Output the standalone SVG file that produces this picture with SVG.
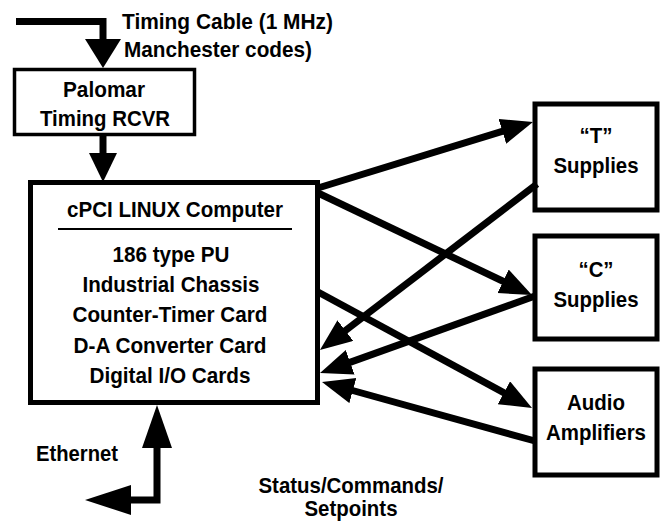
<svg xmlns="http://www.w3.org/2000/svg" width="662" height="522" viewBox="0 0 662 522">
<style>
text{font-family:"Liberation Sans",Arial,sans-serif;font-weight:bold;font-size:22.5px;fill:#000}
.c{text-anchor:middle}
.box{fill:#fff;stroke:#000;stroke-width:5}
.thin{fill:#fff;stroke:#000;stroke-width:3.5}
.ln{fill:none;stroke:#000;stroke-width:7}
.ah{fill:#000;stroke:none}
</style>
<defs>
<marker id="arr" markerUnits="userSpaceOnUse" markerWidth="34" markerHeight="28" refX="4" refY="13" orient="auto" viewBox="0 0 34 28">
<path d="M0,0 L32,13 L0,26 z" fill="#000"/>
</marker>
</defs>
<rect width="662" height="522" fill="#fff"/>
<g id="palomar">
<rect class="thin" x="14.5" y="69.5" width="180" height="65"/>
<text class="c" x="104" y="97" textLength="82" lengthAdjust="spacingAndGlyphs">Palomar</text>
<text class="c" x="105" y="126" textLength="130" lengthAdjust="spacingAndGlyphs">Timing RCVR</text>
</g>
<g id="computer">
<rect class="box" x="30.5" y="182.5" width="287" height="220"/>
<text class="c" x="175" y="217" textLength="216" lengthAdjust="spacingAndGlyphs">cPCI LINUX Computer</text>
<line x1="58" y1="229" x2="292" y2="229" stroke="#000" stroke-width="2"/>
<text class="c" x="171" y="262" textLength="117" lengthAdjust="spacingAndGlyphs">186 type PU</text>
<text class="c" x="171" y="292" textLength="177" lengthAdjust="spacingAndGlyphs">Industrial Chassis</text>
<text class="c" x="170" y="322" textLength="195" lengthAdjust="spacingAndGlyphs">Counter-Timer Card</text>
<text class="c" x="170" y="353" textLength="193" lengthAdjust="spacingAndGlyphs">D-A Converter Card</text>
<text class="c" x="170" y="383" textLength="161" lengthAdjust="spacingAndGlyphs">Digital I/O Cards</text>
</g>
<g id="t-supplies">
<rect class="box" x="535" y="104" width="122" height="106"/>
<text class="c" x="596" y="143" textLength="33" lengthAdjust="spacingAndGlyphs">“T”</text>
<text class="c" x="596" y="173" textLength="85" lengthAdjust="spacingAndGlyphs">Supplies</text>
</g>
<g id="c-supplies">
<rect class="box" x="535" y="236" width="122" height="103"/>
<text class="c" x="596" y="277" textLength="35" lengthAdjust="spacingAndGlyphs">“C”</text>
<text class="c" x="596" y="307" textLength="85" lengthAdjust="spacingAndGlyphs">Supplies</text>
</g>
<g id="audio">
<rect class="box" x="535" y="369" width="122" height="106"/>
<text class="c" x="596" y="410" textLength="58" lengthAdjust="spacingAndGlyphs">Audio</text>
<text class="c" x="596" y="440" textLength="100" lengthAdjust="spacingAndGlyphs">Amplifiers</text>
</g>
<g id="labels">
<text x="122" y="29" textLength="211" lengthAdjust="spacingAndGlyphs">Timing Cable (1 MHz)</text>
<text x="124" y="57" textLength="188" lengthAdjust="spacingAndGlyphs">Manchester codes)</text>
<text x="36" y="461" textLength="82" lengthAdjust="spacingAndGlyphs">Ethernet</text>
<text class="c" x="351" y="493" textLength="185" lengthAdjust="spacingAndGlyphs">Status/Commands/</text>
<text class="c" x="351" y="516" textLength="93" lengthAdjust="spacingAndGlyphs">Setpoints</text>
</g>
<g id="connectors">
<path class="ln" d="M16,21.5 H103 V41"/>
<polygon class="ah" points="85,39 121,39 103,68"/>
<path class="ln" d="M103,135 V155"/>
<polygon class="ah" points="89,153 117,153 103,182"/>
<path class="ln" d="M130,500 H157 V446"/>
<polygon class="ah" points="157,405 142,448 172,448"/>
<polygon class="ah" points="85,500 131,485 131,515"/>
<line class="ln" x1="318" y1="188" x2="506.2" y2="130.2" marker-end="url(#arr)"/>
<line class="ln" x1="318" y1="193" x2="506.7" y2="283" marker-end="url(#arr)"/>
<line class="ln" x1="537" y1="184" x2="342.2" y2="333" marker-end="url(#arr)"/>
<line class="ln" x1="535" y1="296" x2="346.4" y2="363.6" marker-end="url(#arr)"/>
<line class="ln" x1="318" y1="292" x2="507.4" y2="394.7" marker-end="url(#arr)"/>
<line class="ln" x1="535" y1="441" x2="349" y2="389.5" marker-end="url(#arr)"/>
</g>
</svg>
